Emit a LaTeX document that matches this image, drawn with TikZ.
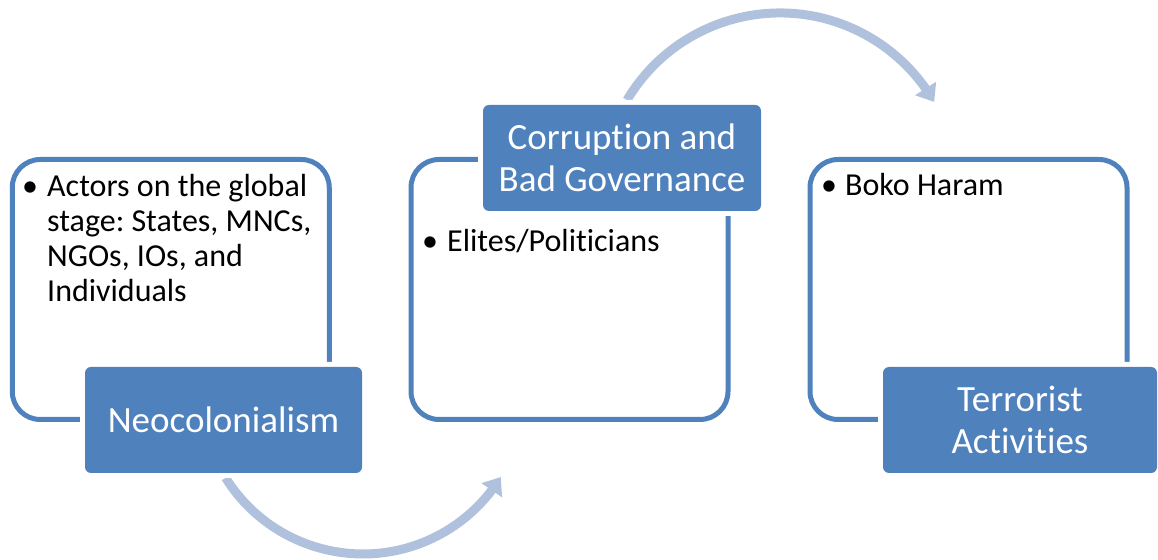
\documentclass[tikz,border=0pt]{standalone}
\usepackage{fontspec}
\setmainfont{Carlito}[RawFeature={-liga;-clig;-calt;-dlig}]
\usetikzlibrary{arrows.meta,bending}
\definecolor{accent}{RGB}{79,129,189}
\definecolor{arrowtint}{RGB}{176,193,221}
\frenchspacing
% keeps "t" and "i" as separate glyphs
\newcommand{\tisep}{t\kern0pt i}
\tikzset{
  outline/.style={draw=accent, line width=5pt, rounded corners=28pt, fill=white,
    minimum width=317pt, minimum height=260pt, inner sep=0pt},
  labelbox/.style={fill=accent, rounded corners=6pt, text=white, align=center,
    inner sep=0pt, minimum height=106pt,
    preaction={draw=white, line width=10pt, rounded corners=6pt},
    font=\fontsize{37pt}{41.5pt}\selectfont},
  bodytext/.style={inner sep=0pt, align=left, anchor=base west,
    font=\fontsize{32pt}{35pt}\selectfont},
  bulletmark/.style={inner sep=0pt, anchor=base,
    font=\fontsize{32pt}{35pt}\selectfont},
  cyclearrow/.style={draw=arrowtint, line width=9pt,
    -{Triangle[length=16pt,width=24pt]}}
}
\begin{document}
\begin{tikzpicture}[x=1pt,y=1pt]
\useasboundingbox (0,0) rectangle (1158,559);

% three outlined content panels
\node[outline] (panelA) at (170.75,269.5) {};
\node[outline] (panelB) at (569.5,269.5) {};
\node[outline] (panelC) at (968.5,269.5) {};

% bullet texts inside the panels
\node[bulletmark] (bulA) at (30,362) {\textbullet};
\node[bodytext] (txtA) at (47,362) {Actors on the global};
\node[bodytext] (txtA2) at (47,327) {stage: States, MNCs,};
\node[bodytext] (txtA3) at (47,292) {NGOs, IOs, and};
\node[bodytext] (txtA4) at (47,257) {Individuals};

\node[bulletmark] (bulB) at (430,307) {\textbullet};
\node[bodytext] (txtB) at (447,307) {Elites/Poli\tisep cians};

\node[bulletmark] (bulC) at (829,363) {\textbullet};
\node[bodytext] (txtC) at (845,363) {Boko Haram};

% curved arrows linking the stages
\coordinate (arcAstart) at (225.6,81.2);
\draw[cyclearrow] (arcAstart) arc[start angle=212, end angle=328.3, radius=162];
\coordinate (arcBstart) at (627,458.9);
\draw[cyclearrow] (arcBstart) arc[start angle=149.3, end angle=30, radius=178];

% stage labels
\node[labelbox, minimum width=277pt] (neo) at (223.5,139) {Neocolonialism};
\node[labelbox, minimum width=278pt] (corr) at (622,401) {Corruption and\\Bad Governance};
\node[labelbox, minimum width=274pt] (terr) at (1020,139) {Terrorist\\Ac\tisep vi\tisep es};
\end{tikzpicture}
\end{document}
